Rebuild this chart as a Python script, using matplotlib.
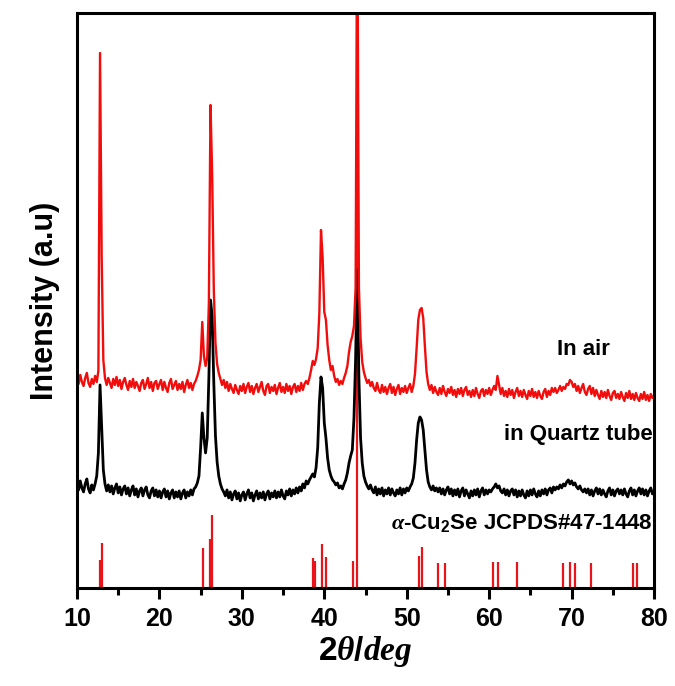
import numpy as np
import matplotlib
matplotlib.use("Agg")
import matplotlib.pyplot as plt

# 2theta grid of the scans (deg), one reading every 0.2 deg
two_theta = np.round(np.arange(10.0, 80.01, 0.2), 1)

# "In air" scan (a.u.)
red_air = [
    210, 204, 213, 206, 202, 210, 215, 205, 201, 209,
    204, 212, 206, 217, 535, 330, 228, 210, 203, 210,
    205, 200, 209, 203, 211, 202, 208, 199, 206, 210,
    203, 198, 207, 201, 209, 200, 206, 202, 197, 205,
    208, 199, 204, 210, 200, 206, 197, 205, 207, 199,
    204, 208, 198, 206, 200, 196, 205, 209, 199, 203,
    207, 198, 204, 199, 206, 196, 203, 208, 200, 205,
    198, 204, 207, 212, 218, 228, 266, 232, 222, 230,
    285, 483, 413, 298, 245, 224, 215, 209, 203, 208,
    200, 206, 197, 204, 199, 195, 203, 198, 194, 202,
    197, 204, 195, 201, 205, 196, 202, 194, 200, 204,
    196, 201, 206, 197, 193, 202, 204, 195, 201, 197,
    203, 194, 200, 205, 196, 201, 195, 204, 197, 202,
    194, 201, 204, 196, 202, 197, 205, 198, 204, 207,
    204, 210, 218, 227, 223, 229, 240, 275, 358, 330,
    276, 268, 243, 228, 218, 222, 212, 206, 209, 203,
    207, 204, 210, 215, 222, 236, 246, 252, 262, 300,
    700, 300, 250, 226, 216, 210, 205, 208, 202, 206,
    200, 197, 205, 198, 195, 203, 196, 201, 194, 200,
    204, 195, 201, 193, 199, 203, 194, 200, 196, 202,
    195, 200, 204, 196, 202, 214, 240, 268, 278, 280,
    270, 242, 216, 204, 198, 203, 195, 201, 196, 193,
    200, 194, 202, 196, 192, 199, 195, 201, 193, 198,
    191, 199, 194, 200, 192, 198, 201, 193, 197, 191,
    198, 192, 200, 194, 190, 197, 199, 192, 198, 194,
    200, 193, 198, 202, 198, 212, 203, 194, 200, 192,
    197, 191, 199, 193, 198, 190, 196, 200, 192, 197,
    191, 198, 193, 189, 197, 192, 199, 191, 196, 190,
    197, 192, 189, 196, 199, 191, 197, 193, 200, 196,
    200, 195, 198, 202, 197, 201, 199, 204, 203, 208,
    206, 201, 204, 197, 202, 195, 200, 204, 196, 193,
    199, 202, 194, 200, 192, 198, 193, 189, 197, 191,
    196, 190, 198, 192, 188, 195, 197, 190, 194, 189,
    196, 191, 187, 195, 190, 197, 189, 194, 188, 195,
    190, 187, 194, 189, 196, 188, 193, 187, 194, 190,
    191,
]

# "in Quartz tube" scan (a.u.)
black_quartz = [
    104, 98, 107, 100, 96, 104, 109, 99, 95, 103,
    98, 104, 112, 135, 203, 160, 118, 104, 97, 103,
    96, 102, 94, 100, 104, 95, 101, 93, 99, 102,
    94, 100, 92, 98, 102, 93, 99, 91, 97, 100,
    92, 98, 101, 93, 90, 97, 100, 92, 98, 91,
    97, 90, 96, 99, 91, 97, 89, 95, 98, 90,
    96, 91, 97, 89, 95, 98, 90, 96, 92, 98,
    93, 99, 101, 105, 112, 140, 175, 150, 135, 150,
    210, 288, 272, 205, 152, 126, 112, 104, 99, 96,
    92, 98, 90, 96, 88, 94, 97, 89, 95, 87,
    93, 96, 88, 94, 98, 90, 95, 87, 93, 97,
    89, 95, 90, 96, 88, 94, 97, 89, 95, 91,
    97, 90, 96, 91, 98, 92, 89, 97, 93, 99,
    92, 98, 94, 100, 95, 101, 97, 104, 100, 107,
    104, 108, 111, 114, 111, 120, 140, 185, 211, 200,
    165, 150, 130, 118, 112, 108, 106, 103, 105, 100,
    102, 99, 104, 108, 115, 125, 132, 138, 170, 230,
    318, 210, 150, 125, 112, 106, 102, 99, 103, 98,
    95, 101, 93, 99, 94, 100, 92, 98, 94, 100,
    93, 99, 95, 92, 98, 94, 100, 93, 99, 95,
    100, 97, 101, 104, 110, 125, 148, 165, 171, 168,
    158, 138, 118, 106, 101, 98, 102, 97, 100, 96,
    100, 94, 99, 93, 98, 101, 94, 99, 92, 98,
    93, 99, 91, 97, 100, 92, 98, 94, 90, 97,
    92, 98, 93, 99, 91, 97, 100, 93, 98, 94,
    98, 96, 99, 101, 104, 100, 102, 97, 95, 99,
    93, 98, 92, 97, 99, 93, 98, 91, 97, 92,
    98, 93, 90, 97, 92, 98, 93, 99, 94, 91,
    97, 92, 98, 94, 99, 93, 98, 100, 95, 101,
    98, 101, 99, 103, 100, 104, 102, 106, 108, 104,
    107, 103, 105, 101, 99, 102, 98, 96, 99, 95,
    99, 93, 98, 92, 97, 100, 94, 99, 93, 98,
    94, 91, 97, 100, 93, 98, 92, 97, 99, 94,
    98, 93, 99, 94, 91, 97, 100, 93, 98, 92,
    97, 100, 94, 99, 93, 98, 92, 97, 100, 94,
    97,
]

# reference pattern alpha-Cu2Se JCPDS#47-1448
ref_pos = [12.8, 13.0, 25.3, 26.1, 26.4, 38.6, 38.9, 39.7, 40.2, 43.5, 44.0,
           51.5, 51.9, 53.8, 54.6, 60.5, 61.1, 63.4, 69.0, 69.8, 70.4, 72.3,
           77.4, 77.9]
ref_int = [28, 45, 40, 49, 73, 30, 27, 44, 31, 27, 700,
           32, 41, 25, 25, 26, 26, 26, 25, 26, 25, 25,
           25, 25]

plt.rcParams["font.family"] = ["Liberation Sans", "DejaVu Sans"]
plt.rcParams["font.weight"] = "bold"
plt.rcParams["mathtext.fontset"] = "custom"
plt.rcParams["mathtext.rm"] = "Liberation Sans:bold"
plt.rcParams["mathtext.it"] = "Liberation Serif:italic:bold"
plt.rcParams["mathtext.bf"] = "Liberation Sans:bold"

fig = plt.figure(figsize=(6.75, 6.86), dpi=100)
ax = fig.add_axes([0.114, 0.143, 0.855, 0.838])

ax.vlines(ref_pos, 0, ref_int, colors="#e8141b", linewidth=1.6)
ax.plot(two_theta, black_quartz, color="black", linewidth=2.0)
ax.plot(two_theta, red_air, color="#f20d0d", linewidth=1.7)

ax.set_xlim(10, 80)
ax.set_ylim(0, 575)
ax.set_xticks(range(10, 81, 10))
ax.set_xticks(range(15, 80, 10), minor=True)
ax.set_yticks([])
ax.tick_params(axis="x", which="major", direction="out", length=8, width=2.2,
               labelsize=18, pad=6)
ax.tick_params(axis="x", which="minor", direction="out", length=5, width=2.2)
for s in ax.spines.values():
    s.set_linewidth(2.2)

ax.set_ylabel("Intensity (a.u)", fontsize=22, fontweight="bold", labelpad=12)
ax.set_xlabel(r"$\mathbf{2}\mathit{\theta/deg}$", fontsize=24, labelpad=2)

ax.text(0.924, 0.414, "In air", transform=ax.transAxes, fontsize=16,
        fontweight="bold", ha="right", va="center")
ax.text(0.997, 0.266, "in Quartz tube", transform=ax.transAxes, fontsize=16,
        fontweight="bold", ha="right", va="center")
ax.text(0.997, 0.113, r"$\mathit{\alpha}$-Cu$_\mathrm{2}$Se JCPDS#47-1448",
        transform=ax.transAxes, fontsize=16, fontweight="bold",
        ha="right", va="center")

fig.savefig("out.png", dpi=100)
